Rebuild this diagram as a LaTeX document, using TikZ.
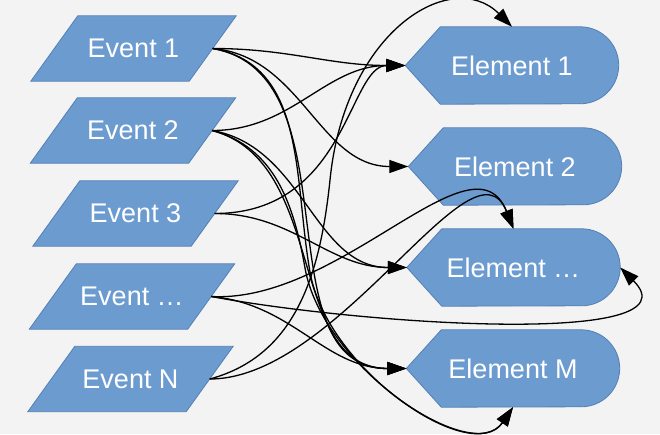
\documentclass[tikz,border=0pt]{standalone}
\usepackage{fontspec}
\setmainfont{Liberation Sans}
\usetikzlibrary{arrows.meta,backgrounds}
\definecolor{paper}{RGB}{243,243,243}
\definecolor{boxblue}{RGB}{108,155,207}
\definecolor{boxedge}{RGB}{84,128,182}
\tikzset{
  txtbox/.style={inner sep=0pt,text=white,font=\fontsize{27}{30}\selectfont},
  event/.style={txtbox,minimum width=158pt,minimum height=65pt},
  element/.style={txtbox,minimum width=213pt,minimum height=77pt},
  blockfill/.style={fill=boxblue,draw=boxedge,line width=0.8pt},
  link/.style={->,line width=1.3pt},
}
\begin{document}
\begin{tikzpicture}[x=1pt,y=1pt,>={Triangle[length=19pt,width=13pt]}]
    \useasboundingbox (0,0) rectangle (660,434);
    % events
    \node[event] (ev1) at (133.5,385.5) {Event 1};
    \node[event] (ev2) at (133,303.5) {Event 2};
    \node[event] (ev3) at (135.5,220.5) {Event 3};
    \node[event] (ev4) at (132,137.5) {Event …};
    \node[event] (ev5) at (130.5,55) {Event N};
    % elements
    \node[element] (el1) at (512,368.5) {Element 1};
    \node[element] (el2) at (515,267.5) {Element 2};
    \node[element] (el3) at (513.5,166.5) {Element …};
    \node[element] (el4) at (513,65.5) {Element M};
    \begin{scope}[on background layer]
        \fill[paper] (0,0) rectangle (660,434);
        \foreach \i in {1,...,5}
        \draw[blockfill] ([xshift=23.5pt]ev\i.north west) -- ([xshift=23.5pt]ev\i.north east)
        -- ([xshift=-23.5pt]ev\i.south east) -- ([xshift=-23.5pt]ev\i.south west) -- cycle;
        \foreach \i in {1,...,4}
        \draw[blockfill] (el\i.west) -- ([xshift=35pt]el\i.north west) -- ([xshift=-38.5pt]el\i.north east)
        arc[start angle=90,end angle=-90,radius=38.5pt] -- ([xshift=35pt]el\i.south west) -- cycle;
    \end{scope}
    \coordinate (bendA) at (330,254);
    \coordinate (bendB) at (310,162);
    \coordinate (bendC) at (305,166);
    % connectors
    \draw[link] (ev1.east) to[out=0,in=180] (el1.west);
    \draw[link] (ev1.east) to[out=-5,in=180] (el2.west);
    \draw[link] (ev1.east) to[out=-10,in=180] (el4.west);
    \draw[link] (ev1.east) to[out=-10,in=100] (bendB) .. controls +(17,-98) and +(-41,-60) .. (el4.south);
    \draw[link] (ev2.east) to[out=0,in=180] (el1.west);
    \draw[link] (ev2.east) to[out=-10,in=180] (el3.west);
    \draw[link] (ev2.east) to[out=-15,in=180] (el4.west);
    \draw[link] (ev2.east) to[out=-15,in=100] (bendC) .. controls +(17,-98) and +(-41,-60) .. (el4.south);
    \draw[link] (ev3.east) to[out=0,in=180,out looseness=1.4,in looseness=0.6] (el1.west);
    \draw[link] (ev3.east) to[out=0,in=180] (el3.west);
    \draw[link] (ev4.east) .. controls +(130,-7) and +(-40,100) .. (el3.north);
    \draw[link] (ev4.east) .. controls +(150,-28) and +(80,-80) .. (el3.east);
    \draw[link] (ev4.east) to[out=-5,in=180] (el4.west);
    \draw[link] (ev5.east) .. controls +(130,0) and +(-40,100) .. (el3.north);
    \draw[link] (ev5.east) to[out=15,in=-96] (bendA) .. controls +(15,150) and +(-60,60) .. (el1.north);
\end{tikzpicture}
\end{document}
